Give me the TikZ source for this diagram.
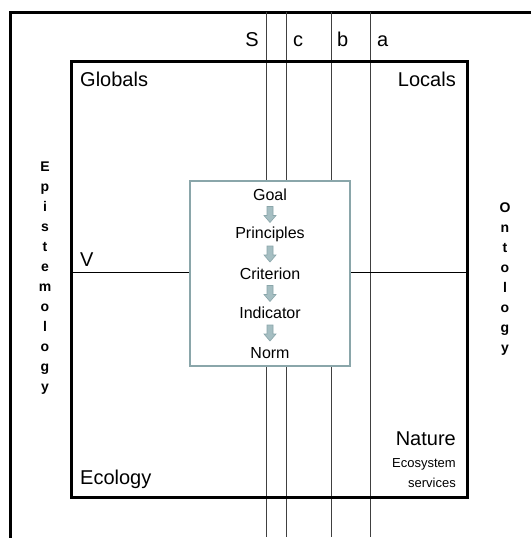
\documentclass[tikz,border=0pt]{standalone}
\usepackage{fontspec}
\setmainfont{Liberation Sans}
\usepackage{xcolor}
\usetikzlibrary{shapes,arrows,positioning,calc,arrows.meta}
\definecolor{boxteal}{RGB}{138,166,170}
\definecolor{arrowfill}{RGB}{165,190,194}

\tikzset{
  lbl/.style={inner sep=0pt, font=\fontsize{20}{22}\selectfont},
  smalllbl/.style={inner sep=0pt, font=\fontsize{13}{15}\selectfont},
  steplbl/.style={inner sep=0pt, font=\fontsize{16}{18}\selectfont},
  vword/.style={inner sep=0pt, align=center, font=\bfseries\fontsize{14}{20}\selectfont},
  blockarrow/.style={draw=boxteal, fill=arrowfill, line width=0.6pt, line join=miter},
}

\begin{document}
\begin{tikzpicture}[x=1pt,y=-1pt]
        \useasboundingbox (0,0) rectangle (531,538);
        % outer frame
        \coordinate (otl) at (10,12);
        \coordinate (otr) at (531,12);
        \coordinate (obl) at (10,538);
        \draw[line width=3pt] (otr) -- (otl) -- (obl);
        % scale lines
        \foreach \name/\x in {S/266,c/286,b/331,a/370} {
            \coordinate (\name top) at (\x,12);
            \coordinate (\name bot) at (\x,537);
            \draw[black!75, line width=0.8pt] (\name top) -- (\name bot);
        }
        % inner frame
        \node[draw, line width=2.5pt, minimum width=396pt, minimum height=436pt,
              anchor=north west, inner sep=0pt] (inner) at (70,60) {};
        \draw[line width=0.8pt] (inner.west |- 0,272) -- (inner.east |- 0,272);
        % scale labels
        \node[lbl, anchor=base east] (lS) at (259,46) {S};
        \node[lbl, anchor=base west] (lc) at (293,46) {c};
        \node[lbl, anchor=base west] (lb) at (337,46) {b};
        \node[lbl, anchor=base west] (la) at (377,46) {a};
        % corner labels
        \node[lbl, anchor=base west] (globals) at (80,86) {Globals};
        \node[lbl, anchor=base east] (locals) at (456,86) {Locals};
        \node[lbl, anchor=base west] (V) at (80,266) {V};
        \node[lbl, anchor=base west] (ecology) at (80,484) {Ecology};
        \node[lbl, anchor=base east] (nature) at (456,445) {Nature};
        \node[smalllbl, anchor=base east] (ecosys) at (456,467) {Ecosystem};
        \node[smalllbl, anchor=base east] (services) at (456,487) {services};
        % side words
        \node[vword] (episte) at (45,278) {E\\p\\i\\s\\t\\e\\m\\o\\l\\o\\g\\y};
        \node[vword] (onto) at (505,279) {O\\n\\t\\o\\l\\o\\g\\y};
        % central box
        \node[draw=boxteal, fill=white, line width=2pt, minimum width=160pt,
              minimum height=185pt, inner sep=0pt] (centre) at (270,273) {};
        \node[steplbl] (goal) at (270,195) {Goal};
        \node[steplbl] (princ) at (270,234) {Principles};
        \node[steplbl] (crit) at (270,274) {Criterion};
        \node[steplbl] (indic) at (270,313) {Indicator};
        \node[steplbl] (norm) at (270,353) {Norm};
        \foreach \a/\b in {goal/princ,princ/crit,crit/indic,indic/norm} {
            \coordinate (mid) at ($(\a)!0.5!(\b)$);
            \draw[blockarrow, shift={(mid)}] (-3,-8) -- (3,-8) -- (3,1) -- (6,1)
                -- (0,8) -- (-6,1) -- (-3,1) -- cycle;
        }
    \end{tikzpicture}
\end{document}
